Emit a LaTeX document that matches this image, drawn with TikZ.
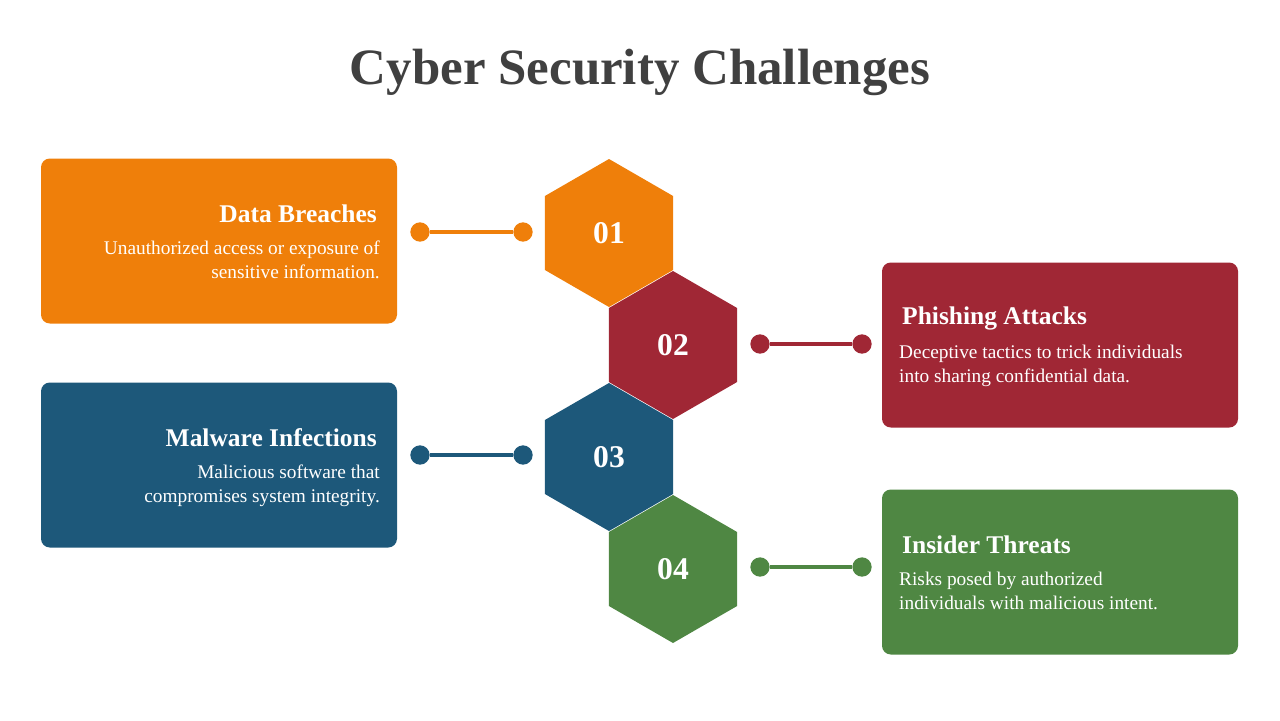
\documentclass[tikz,border=0pt]{standalone}
\usepackage{fontspec}
\setmainfont{Liberation Serif}
\usetikzlibrary{shapes.geometric}
\definecolor{corange}{HTML}{EF7F0A}
\definecolor{cred}{HTML}{A02735}
\definecolor{cblue}{HTML}{1D587A}
\definecolor{cgreen}{HTML}{4F8743}
\definecolor{ctitle}{HTML}{404040}
\tikzset{
  hexa/.style={regular polygon, regular polygon sides=6, shape border rotate=30, minimum size=148*0.02cm, inner sep=0pt, fill=#1, text=white, font=\fontsize{18}{20}\selectfont\bfseries},
  card/.style={rounded corners=5pt, fill=#1, minimum width=356*0.02cm, minimum height=165*0.02cm, inner sep=0pt},
  dot/.style={circle, fill=#1, minimum size=11pt, inner sep=0pt},
  link/.style={line width=2pt, draw=#1},
  head/.style={text=white, font=\fontsize{14.5}{16}\selectfont\bfseries},
  desc/.style={text=white, font=\fontsize{11}{13.5}\selectfont, align=#1},
}
\begin{document}
\begin{tikzpicture}[x=0.02cm,y=-0.02cm]
\useasboundingbox (0,0) rectangle (1280,720);
\node[text=ctitle, font=\fontsize{29}{32}\selectfont\bfseries] (title) at (640,72) {Cyber Security Challenges};
% hexagons
\node[hexa=corange] (h1) at (609,233) {01};
\node[hexa=cred] (h2) at (673,345) {02};
\node[hexa=cblue] (h3) at (609,457) {03};
\node[hexa=cgreen] (h4) at (673,569) {04};
% cards
\node[card=corange] (c1) at (219,241) {};
\node[card=cred] (c2) at (1060,345) {};
\node[card=cblue] (c3) at (219,465) {};
\node[card=cgreen] (c4) at (1060,572) {};
% text
\node[head, anchor=east] (t1) at (383,214) {Data Breaches};
\node[desc=right, anchor=north east] (d1) at (386,235) {Unauthorized access or exposure of\\sensitive information.};
\node[head, anchor=west] (t2) at (896,318) {Phishing Attacks};
\node[desc=left, anchor=north west] (d2) at (893,339) {Deceptive tactics to trick individuals\\into sharing confidential data.};
\node[head, anchor=east] (t3) at (383,438) {Malware Infections};
\node[desc=right, anchor=north east] (d3) at (386,459) {Malicious software that\\compromises system integrity.};
\node[head, anchor=west] (t4) at (896,545) {Insider Threats};
\node[desc=left, anchor=north west] (d4) at (893,566) {Risks posed by authorized\\individuals with malicious intent.};
% connectors
\node[dot=corange] (a1) at (420,232) {}; \node[dot=corange] (b1) at (523,232) {};
\draw[link=corange] (a1) -- (b1);
\node[dot=cred] (a2) at (760,344) {}; \node[dot=cred] (b2) at (862,344) {};
\draw[link=cred] (a2) -- (b2);
\node[dot=cblue] (a3) at (420,455) {}; \node[dot=cblue] (b3) at (523,455) {};
\draw[link=cblue] (a3) -- (b3);
\node[dot=cgreen] (a4) at (760,567) {}; \node[dot=cgreen] (b4) at (862,567) {};
\draw[link=cgreen] (a4) -- (b4);
\end{tikzpicture}
\end{document}
